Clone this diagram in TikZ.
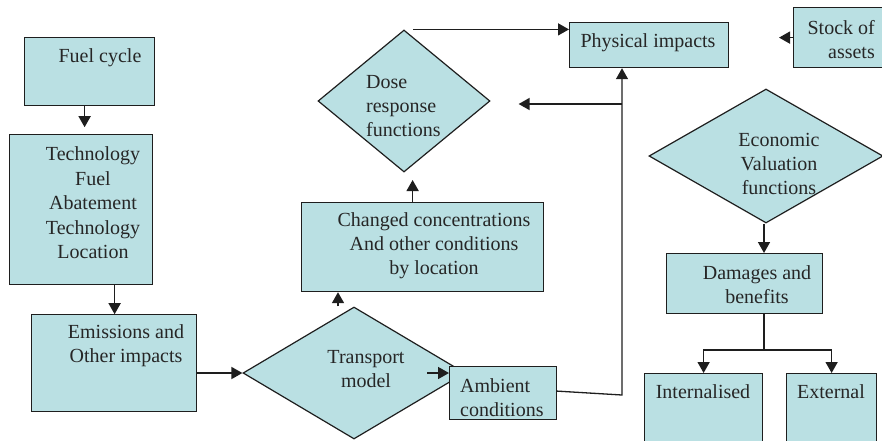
\documentclass[tikz,border=0pt]{standalone}
\usepackage{fontspec}
\setmainfont{Liberation Serif}
\usetikzlibrary{shapes.geometric,arrows.meta,calc}
\definecolor{boxfill}{RGB}{186,224,227}
\definecolor{edgecol}{RGB}{30,30,30}
\begin{document}
\begin{tikzpicture}[x=1pt,y=-1pt,
  box/.style={draw=edgecol, fill=boxfill, line width=1.2pt, inner sep=0pt, anchor=north west},
  dia/.style={draw=edgecol, fill=boxfill, line width=1.2pt, inner sep=0pt, diamond},
  lbl/.style={font=\rmfamily\fontsize{20}{24}\selectfont, align=center, inner sep=0pt, text=black!85},
  conn/.style={draw=edgecol, line width=1.6pt, -{Triangle[length=11pt,width=12pt]}},
  thinconn/.style={draw=edgecol, line width=1.3pt, -{Triangle[length=11pt,width=12pt]}},
  plain/.style={draw=edgecol, line width=1.3pt}
  ]
\useasboundingbox (0,0) rectangle (882,440);
\clip (0,0) rectangle (882,440);

% shapes
\node[box, minimum width=130pt, minimum height=68pt] (fuel) at (24,37) {};
\node[box, minimum width=143pt, minimum height=150pt] (tech) at (9,134) {};
\node[box, minimum width=165pt, minimum height=97pt] (emis) at (31,314) {};
\node[dia, minimum width=222pt, minimum height=132pt] (trans) at (354,373) {};
\node[box, minimum width=107pt, minimum height=53pt] (amb) at (449,366) {};
\node[box, minimum width=242pt, minimum height=89pt] (chg) at (301,202) {};
\node[dia, minimum width=172pt, minimum height=142pt] (dose) at (404,101) {};
\node[box, minimum width=159pt, minimum height=45pt] (phys) at (569,22) {};
\node[box, minimum width=100pt, minimum height=60pt] (stock) at (793,7) {};
\node[dia, minimum width=234pt, minimum height=134pt] (econ) at (766,156) {};
\node[box, minimum width=156pt, minimum height=60pt] (dmg) at (666,253) {};
\node[box, minimum width=118pt, minimum height=90pt] (intl) at (644,373) {};
\node[box, minimum width=90pt, minimum height=90pt] (ext) at (786,373) {};

% texts
\node[lbl] (tfuel) at (100,58) {Fuel cycle};
\node[lbl, font=\rmfamily\fontsize{20}{24.5}\selectfont] (ttech) at (93,203) {Technology\\Fuel\\Abatement\\Technology\\Location};
\node[lbl] (temis) at (126,346) {Emissions and\\Other impacts};
\node[lbl] (ttrans) at (366,369) {Transport\\model};
\node[lbl, align=left, anchor=west] (tamb) at (460,398) {Ambient\\conditions};
\node[lbl] (tchg) at (434,246) {Changed concentrations\\And other conditions\\by location};
\node[lbl, align=left, anchor=west] (tdose) at (366,106) {Dose\\response\\functions};
\node[lbl] (tphys) at (648,43) {Physical impacts};
\node[lbl, align=right, anchor=east] (tstock) at (875,40) {Stock of\\assets};
\node[lbl] (tecon) at (779,164) {Economic\\Valuation\\functions};
\node[lbl] (tdmg) at (757,285) {Damages and\\benefits};
\node[lbl] (tintl) at (703,392) {Internalised};
\node[lbl] (text) at (831,392) {External};

% connectors
\draw[conn] ([xshift=-5pt]fuel.south) -- ++(0,21);
\draw[conn] ([xshift=33.5pt]tech.south) -- ++(0,29);
\draw[conn] (emis.east |- trans.west) -- (trans.west);
\draw[conn] ([xshift=-22pt]amb.west |- trans.center) -- (amb.west |- trans.center);
\draw[conn] ([xshift=-16pt]trans.north) -- ([xshift=-16pt]trans.north |- chg.south);
\draw[conn] ([xshift=-10pt]chg.north) -- ++(0,-22);
\draw[conn] ([xshift=9pt]dose.north) -- (phys.west |- dose.north);
\coordinate (bend) at (622,395);
\coordinate (junc) at (622,104);
\draw[thinconn] ([yshift=2pt]amb.east) -- (bend) -- (bend |- phys.south);
\draw[conn] (junc) -- ([xshift=28pt]dose.east |- junc);
\draw[conn] (stock.west) -- ++(-14,0);
\draw[conn] ([xshift=-2pt]econ.south) -- ([xshift=-2pt]econ.south |- dmg.north);
\coordinate (split) at (764,350);
\draw[plain] (split |- dmg.south) -- (split);
\draw[conn] (split) -| (intl.north);
\draw[conn] (split) -| (ext.north);
\end{tikzpicture}
\end{document}
